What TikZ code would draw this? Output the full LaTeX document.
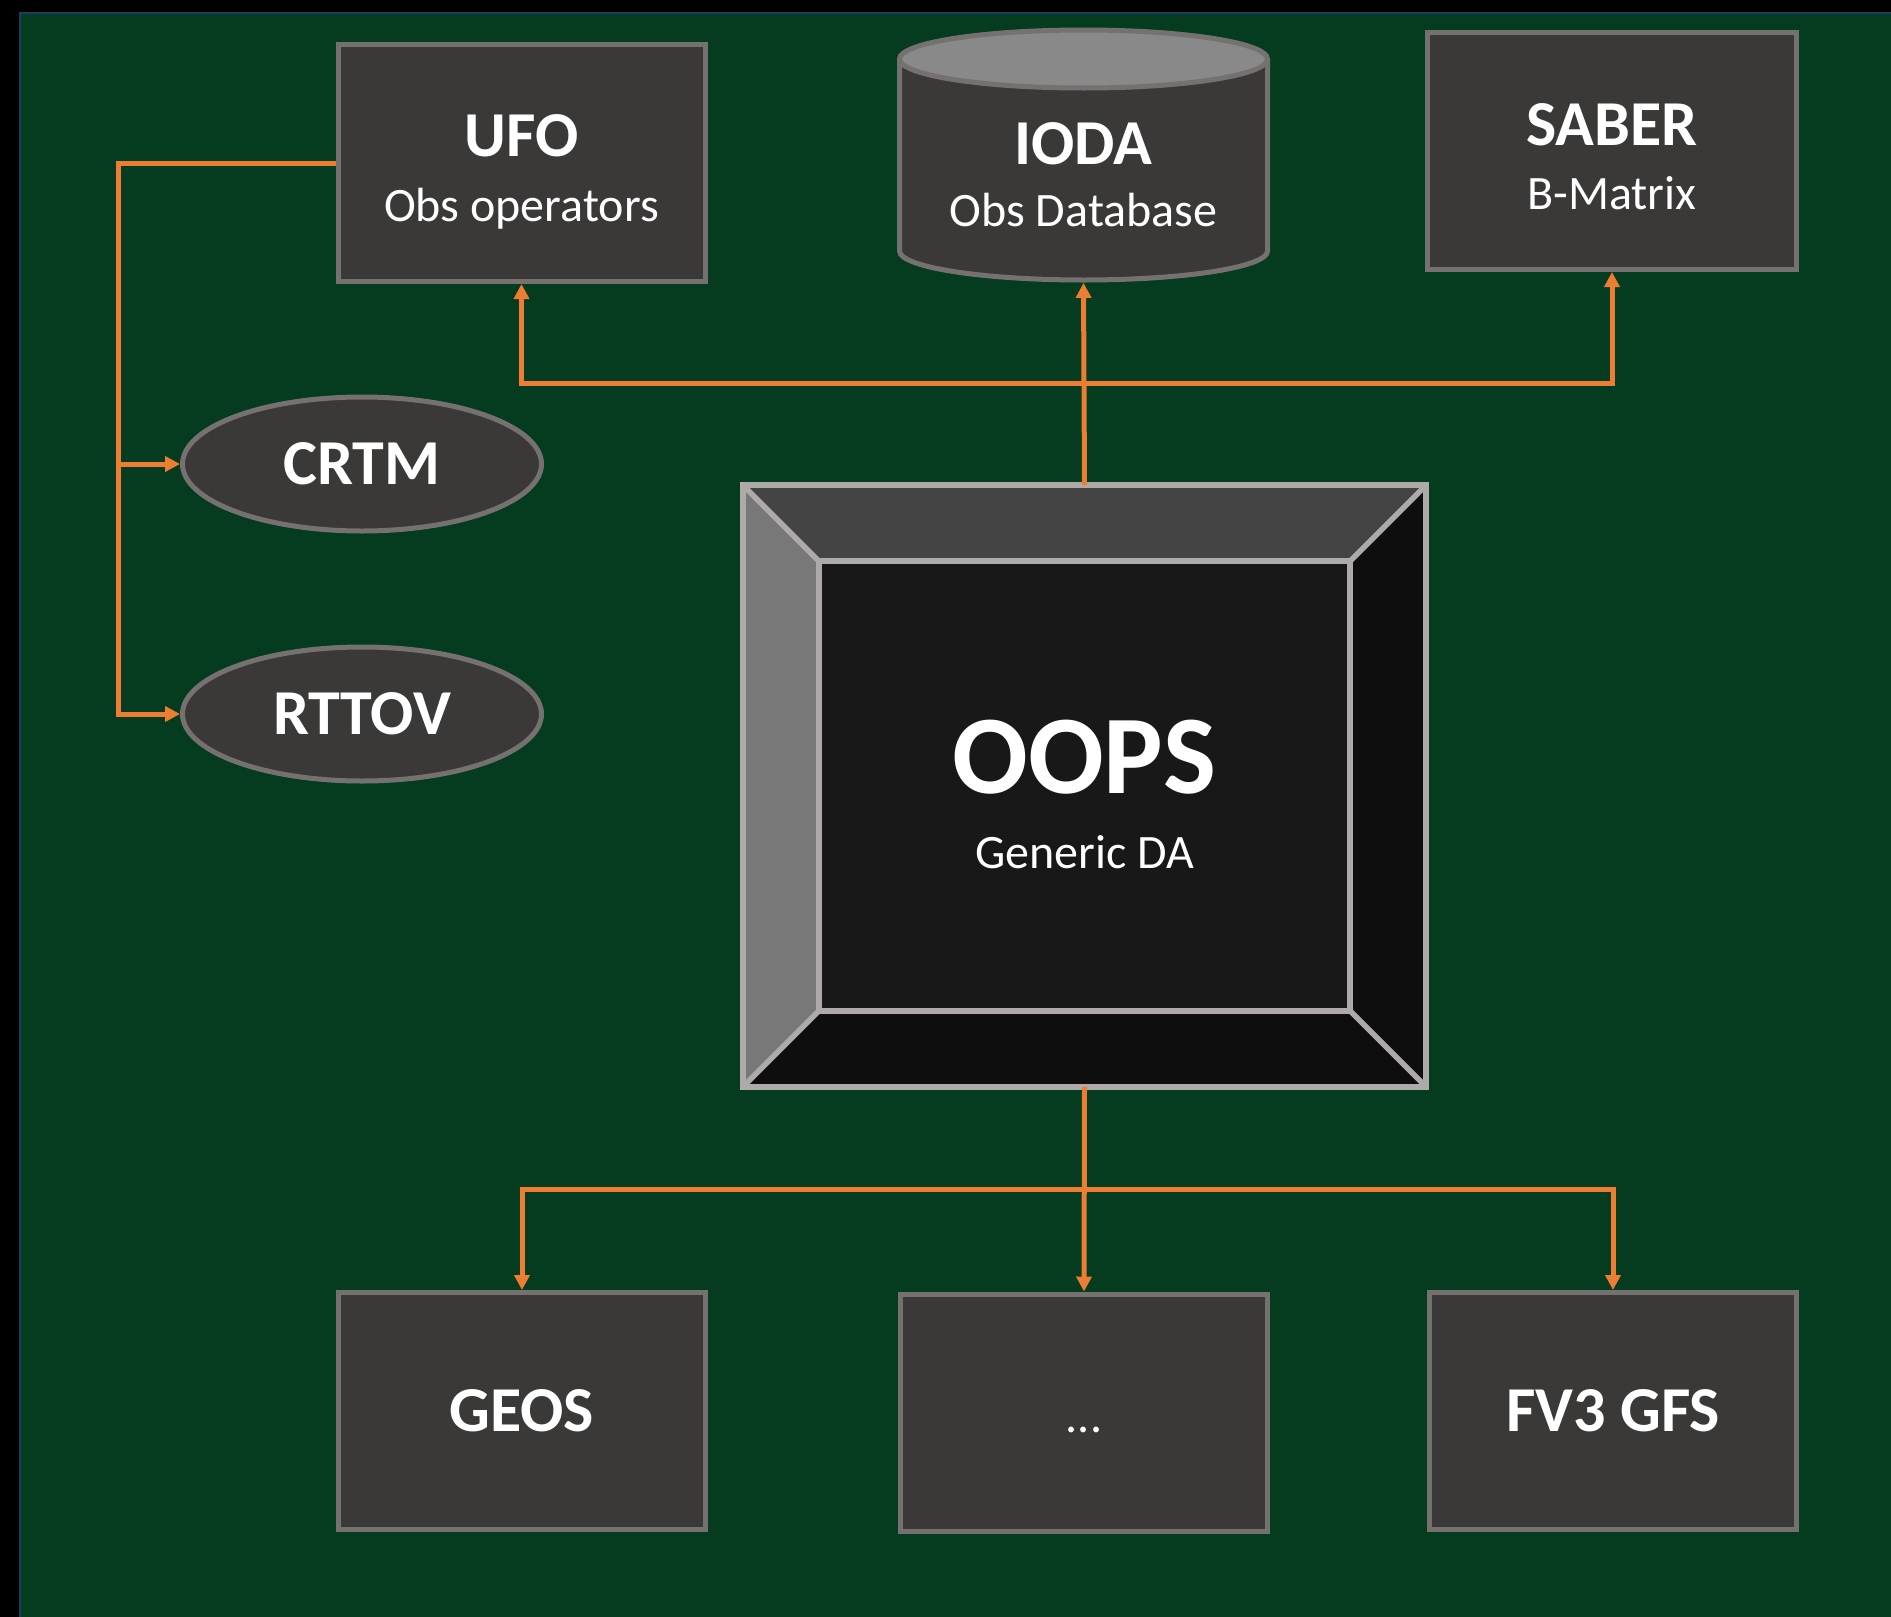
\documentclass[tikz,border=0pt]{standalone}
\usepackage{fontspec}
\setmainfont{Carlito}
\usetikzlibrary{shapes.geometric,arrows.meta,calc}
\definecolor{bggreen}{HTML}{053B1E}
\definecolor{edgeblue}{HTML}{1F3864}
\definecolor{boxfill}{HTML}{3A3938}
\definecolor{boxline}{HTML}{767171}
\definecolor{lidfill}{HTML}{898989}
\definecolor{arrowor}{HTML}{ED7D31}
\definecolor{bevtop}{HTML}{444444}
\definecolor{bevleft}{HTML}{787878}
\definecolor{bevdark}{HTML}{0E0E0E}
\definecolor{bevmid}{HTML}{181818}
\definecolor{bevline}{HTML}{AEAAAA}
\tikzset{
  box/.style={rectangle, draw=boxline, fill=boxfill, line width=2.5pt, inner sep=0,
    minimum width=183.5pt, minimum height=118.5pt, text=white,
    font=\fontsize{32}{38}\selectfont\bfseries},
  ell/.style={ellipse, draw=boxline, fill=boxfill, line width=2.5pt, inner sep=0,
    minimum width=179.5pt, minimum height=67pt, text=white,
    font=\fontsize{32}{38}\selectfont\bfseries},
  ttl/.style={text=white, font=\fontsize{32}{38}\selectfont\bfseries, anchor=base, inner sep=0},
  sbt/.style={text=white, font=\fontsize{24}{29}\selectfont, anchor=base, inner sep=0},
  link/.style={draw=arrowor, line width=2.5pt, -{Triangle[width=7.5pt,length=7.5pt]}},
  bevstroke/.style={draw=bevline, line width=2.7pt},
}
\begin{document}
\begin{tikzpicture}[x=0.5pt,y=-0.5pt]
\useasboundingbox (0,0) rectangle (1891,1617);
% background
\fill[black] (0,0) rectangle (1891,1617);
\fill[bggreen] (19,12) rectangle (1891,1617);
\draw[edgeblue, line width=1pt] (19.5,1617) -- (19.5,12.5) -- (1891,12.5);

% UFO
\node[box] (ufo) at (521.5,163) {};
\node[ttl] (ufot) at (521.5,156) {UFO};
\node[sbt] (ufos) at (521.5,221) {Obs operators};

% IODA cylinder
\fill[boxfill] (899.5,59) -- (899.5,251) arc[start angle=180,end angle=360,x radius=92pt,y radius=14.5pt] -- (1267.5,59) -- cycle;
\draw[boxline, line width=2.5pt] (899.5,59) -- (899.5,251) arc[start angle=180,end angle=360,x radius=92pt,y radius=14.5pt] -- (1267.5,59);
\filldraw[fill=lidfill, draw=boxline, line width=2.5pt] (1083.5,59) ellipse [x radius=92pt, y radius=14.5pt];
\node[rectangle, inner sep=0, minimum width=186.5pt, minimum height=127.5pt] (ioda) at (1083.5,155) {};
\node[ttl] (iodat) at (1083.5,164) {IODA};
\node[sbt] (iodas) at (1083.5,226) {Obs Database};

% SABER
\node[box, minimum width=184.5pt] (saber) at (1612,151) {};
\node[ttl] (sabert) at (1612,145) {SABER};
\node[sbt] (sabers) at (1612,209) {B-Matrix};

% CRTM / RTTOV
\node[ell] (crtm) at (362,464) {CRTM};
\node[ell] (rttov) at (362,714) {RTTOV};

% OOPS bevel
\node[rectangle, inner sep=0, minimum width=341.25pt, minimum height=300.5pt] (oops) at (1084.5,786) {};
\coordinate (inw) at ($(oops.north west)+(38pt,-38pt)$);
\coordinate (ine) at ($(oops.north east)+(-38pt,-38pt)$);
\coordinate (isw) at ($(oops.south west)+(38pt,38pt)$);
\coordinate (ise) at ($(oops.south east)+(-38pt,38pt)$);
\fill[bevtop] (oops.north west) -- (oops.north east) -- (ine) -- (inw) -- cycle;
\fill[bevleft] (oops.north west) -- (inw) -- (isw) -- (oops.south west) -- cycle;
\fill[bevdark] (oops.north east) -- (oops.south east) -- (ise) -- (ine) -- cycle;
\fill[bevdark] (oops.south west) -- (isw) -- (ise) -- (oops.south east) -- cycle;
\fill[bevmid] (inw) rectangle (ise);
\draw[bevstroke] (oops.north west) -- (inw);
\draw[bevstroke] (oops.north east) -- (ine);
\draw[bevstroke] (oops.south west) -- (isw);
\draw[bevstroke] (oops.south east) -- (ise);
\draw[bevstroke] (inw) rectangle (ise);
\draw[bevstroke] (oops.north west) rectangle (oops.south east);
\node[text=white, font=\fontsize{56}{64}\selectfont\bfseries, anchor=base, inner sep=0] (oopst) at (1084.5,793) {OOPS};
\node[sbt] (oopss) at (1084.5,868) {Generic DA};

% bottom boxes
\node[box] (geos) at (522,1411) {GEOS};
\node[box] (dots) at (1084,1412.5) {};
\node[sbt] (dotst) at (1084,1432) {...};
\node[box] (fv3) at (1613,1411) {FV3 GFS};

% connectors
\coordinate (lbus) at (118,163);
\coordinate (tbus) at (1084.5,383);
\coordinate (bbus) at (1084.5,1189);
\draw[link] (ufo.west) -| (lbus |- rttov.west) -- (rttov.west);
\draw[link] (lbus |- crtm.west) -- (crtm.west);
\draw[link] (oops.north) -- (ioda.south);
\draw[link] (tbus) -| (ufo.south);
\draw[link] (tbus) -| (saber.south);
\draw[link] (oops.south) -- (dots.north);
\draw[link] (bbus) -| (geos.north);
\draw[link] (bbus) -| (fv3.north);
\end{tikzpicture}
\end{document}
